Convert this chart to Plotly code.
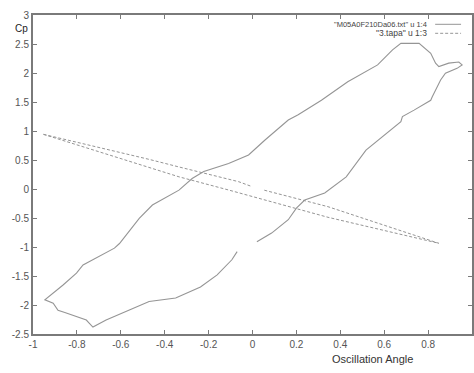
import plotly.graph_objects as go

# Series 1: "M05A0F210Da06.txt" u 1:4 (solid loop)
s1_x = [0.02, 0.087, 0.163, 0.20, 0.238, 0.329, 0.427, 0.517, 0.676, 0.683, 0.736, 0.812,
        0.819, 0.842, 0.857, 0.879, 0.932, 0.955, 0.94, 0.894, 0.849, 0.834, 0.812, 0.759,
        0.676, 0.638, 0.57, 0.434, 0.314, 0.208, 0.163, 0.057, -0.018, -0.109, -0.222,
        -0.275, -0.335, -0.456, -0.516, -0.606, -0.629, -0.772, -0.802, -0.863, -0.923,
        -0.946, -0.908, -0.886, -0.855, -0.757, -0.742, -0.727, -0.667, -0.591, -0.471,
        -0.35, -0.237, -0.161, -0.094, -0.07]
s1_y = [-0.91, -0.76, -0.53, -0.33, -0.19, -0.07, 0.21, 0.67, 1.16, 1.25, 1.36, 1.53,
        1.59, 1.76, 1.88, 1.995, 2.08, 2.14, 2.19, 2.17, 2.11, 2.17, 2.34, 2.51,
        2.51, 2.40, 2.14, 1.85, 1.53, 1.28, 1.19, 0.845, 0.586, 0.44, 0.30,
        0.18, -0.02, -0.276, -0.505, -0.94, -1.02, -1.31, -1.45, -1.655, -1.83,
        -1.91, -1.97, -2.09, -2.13, -2.26, -2.32, -2.38, -2.26, -2.14, -1.94,
        -1.88, -1.69, -1.48, -1.22, -1.08]

# Series 2: "3.tapa" u 1:3 (dashed thin loop), None marks the gap
s2_x = [-0.953, -0.47, -0.335, -0.109, 0.193, 0.344, 0.849,
        0.344, 0.05, None, -0.01, -0.063, -0.335, -0.47, -0.953]
s2_y = [0.943, 0.38, 0.21, -0.017, -0.33, -0.488, -0.936,
        -0.305, -0.017, None, 0.052, 0.126, 0.38, 0.51, 0.943]

x_ticks = [-1, -0.8, -0.6, -0.4, -0.2, 0, 0.2, 0.4, 0.6, 0.8, 1]
x_tick_labels = ["-1", "-0.8", "-0.6", "-0.4", "-0.2", "0", "0.2", "0.4", "0.6", "0.8", "1"]
y_ticks = [-2.5, -2, -1.5, -1, -0.5, 0, 0.5, 1, 1.5, 2, 2.5, 3]
y_tick_labels = ["-2.5", "-2", "-1.5", "-1", "-0.5", "0", "0.5", "1", "1.5", "2", "2.5", "3"]

legend_names = ['"M05A0F210Da06.txt" u 1:4', '"3.tapa" u 1:3']

line_col = "#959595"
axis_col = "#7a7a7a"
font_fam = "Liberation Sans, Arial, sans-serif"

fig = go.Figure()
fig.add_trace(go.Scatter(x=s1_x, y=s1_y, mode="lines",
                         line=dict(color=line_col, width=1.1), name=legend_names[0],
                         connectgaps=False))
fig.add_trace(go.Scatter(x=s2_x, y=s2_y, mode="lines",
                         line=dict(color=line_col, width=1, dash="3px,2px"),
                         name=legend_names[1], connectgaps=False))

axis_common = dict(showgrid=False, zeroline=False, showline=True, linecolor=axis_col,
                   linewidth=2, mirror="ticks", ticks="inside", ticklen=4,
                   tickcolor=axis_col, tickwidth=1,
                   tickfont=dict(family=font_fam, size=10, color="#555555"))

fig.update_layout(
    width=474, height=373,
    margin=dict(l=33, r=0, t=15, b=39),
    paper_bgcolor="white", plot_bgcolor="white",
    showlegend=False,
    xaxis=dict(range=[-1, 1], tickvals=x_ticks, ticktext=x_tick_labels, **axis_common),
    yaxis=dict(range=[-2.5, 3], tickvals=y_ticks, ticktext=y_tick_labels, **axis_common),
)

# axis titles (gnuplot style)
fig.add_annotation(text="Oscillation Angle", xref="paper", yref="paper",
                   x=(374 - 33) / 441, y=-(359 - 333.7) / 319, xanchor="center", yanchor="middle",
                   showarrow=False, font=dict(family=font_fam, size=11, color="#333333"))
fig.add_annotation(text="Cp", xref="paper", yref="paper",
                   x=(21 - 33) / 441, y=(333.7 - 28) / 319, xanchor="center", yanchor="middle",
                   showarrow=False, font=dict(family=font_fam, size=10, color="#222222"))

# legend (text right-aligned, sample line to the right)
leg_rows = [(24, "solid", 7.5), (33, "3px,2px", 8.5)]
for (py, dash, fs), name in zip(leg_rows, legend_names):
    yp = (333.7 - py) / 319
    fig.add_annotation(text=name, xref="paper", yref="paper", x=(431 - 33) / 441, y=yp,
                       xanchor="right", yanchor="middle", showarrow=False,
                       font=dict(family=font_fam, size=fs, color="#444444"))
    fig.add_shape(type="line", xref="paper", yref="paper",
                  x0=(437 - 33) / 441, x1=(463 - 33) / 441, y0=yp, y1=yp,
                  line=dict(color=line_col, width=1, dash=dash))

fig.write_html("out.html")
